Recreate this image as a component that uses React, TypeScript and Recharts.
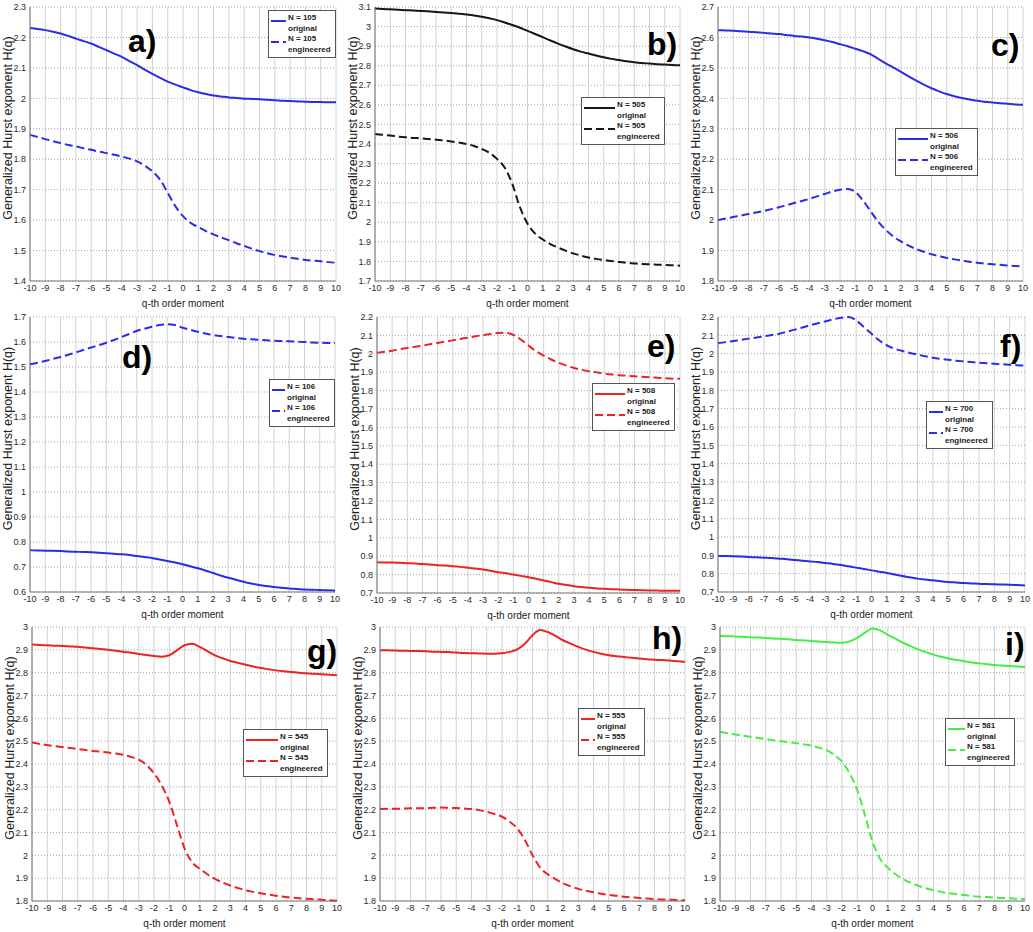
import { LineChart, Line, XAxis, YAxis, CartesianGrid, Legend, Label } from 'recharts';

const FONT = "'Liberation Sans', Arial, sans-serif";

// q values shared by every panel
const Q = [
    -10, -9.5, -9, -8.5, -8, -7.5, -7, -6.5, -6, -5.5, -5, -4.5, -4, -3.5, -3, -2.5, -2, -1.5, -1, -0.5,
    0, 0.5, 1, 1.5, 2, 2.5, 3, 3.5, 4, 4.5, 5, 5.5, 6, 6.5, 7, 7.5, 8, 8.5, 9, 9.5, 10
];
const X_TICKS = [-10, -9, -8, -7, -6, -5, -4, -3, -2, -1, 0, 1, 2, 3, 4, 5, 6, 7, 8, 9, 10];

// a) N = 105
const A_ORIGINAL = [2.231, 2.228, 2.224, 2.219, 2.213, 2.205, 2.196, 2.188, 2.18, 2.169, 2.158, 2.147, 2.136, 2.122, 2.109, 2.094, 2.08, 2.067, 2.055, 2.045, 2.036, 2.027, 2.02, 2.014, 2.009, 2.006, 2.003, 2.001, 1.999, 1.998, 1.997, 1.995, 1.994, 1.992, 1.991, 1.99, 1.989, 1.988, 1.988, 1.987, 1.987];
const A_ENGINEERED = [1.88, 1.873, 1.866, 1.859, 1.853, 1.847, 1.842, 1.836, 1.831, 1.825, 1.82, 1.815, 1.809, 1.802, 1.793, 1.779, 1.76, 1.733, 1.69, 1.646, 1.613, 1.591, 1.577, 1.564, 1.553, 1.543, 1.534, 1.524, 1.515, 1.506, 1.498, 1.491, 1.485, 1.481, 1.477, 1.473, 1.469, 1.467, 1.465, 1.462, 1.46];
const A_Y_TICKS = [1.4, 1.5, 1.6, 1.7, 1.8, 1.9, 2, 2.1, 2.2, 2.3];

// b) N = 505
const B_ORIGINAL = [3.092, 3.09, 3.088, 3.086, 3.084, 3.082, 3.08, 3.078, 3.075, 3.072, 3.069, 3.066, 3.062, 3.057, 3.05, 3.042, 3.033, 3.021, 3.008, 2.994, 2.978, 2.962, 2.946, 2.929, 2.913, 2.898, 2.884, 2.872, 2.862, 2.852, 2.843, 2.835, 2.829, 2.823, 2.818, 2.814, 2.811, 2.808, 2.806, 2.804, 2.802];
const B_ENGINEERED = [2.451, 2.447, 2.443, 2.438, 2.434, 2.431, 2.429, 2.425, 2.422, 2.418, 2.413, 2.407, 2.4, 2.39, 2.375, 2.355, 2.324, 2.28, 2.197, 2.078, 1.993, 1.942, 1.912, 1.889, 1.871, 1.855, 1.841, 1.83, 1.82, 1.813, 1.807, 1.802, 1.797, 1.793, 1.79, 1.787, 1.785, 1.783, 1.782, 1.78, 1.778];
const B_Y_TICKS = [1.7, 1.8, 1.9, 2, 2.1, 2.2, 2.3, 2.4, 2.5, 2.6, 2.7, 2.8, 2.9, 3, 3.1];

// c) N = 506
const C_ORIGINAL = [2.624, 2.623, 2.622, 2.62, 2.619, 2.617, 2.615, 2.613, 2.611, 2.608, 2.605, 2.603, 2.6, 2.596, 2.591, 2.585, 2.578, 2.571, 2.563, 2.555, 2.545, 2.53, 2.515, 2.501, 2.487, 2.472, 2.458, 2.445, 2.433, 2.423, 2.414, 2.407, 2.401, 2.396, 2.392, 2.389, 2.386, 2.384, 2.382, 2.38, 2.379];
const C_ENGINEERED = [2.0, 2.005, 2.01, 2.015, 2.02, 2.025, 2.03, 2.036, 2.042, 2.049, 2.056, 2.063, 2.07, 2.078, 2.086, 2.094, 2.1, 2.102, 2.093, 2.065, 2.03, 1.995, 1.968, 1.946, 1.93, 1.916, 1.905, 1.896, 1.888, 1.882, 1.876, 1.871, 1.867, 1.863, 1.86, 1.857, 1.855, 1.853, 1.851, 1.849, 1.848];
const C_Y_TICKS = [1.8, 1.9, 2, 2.1, 2.2, 2.3, 2.4, 2.5, 2.6, 2.7];

// d) N = 106
const D_ORIGINAL = [0.767, 0.766, 0.765, 0.765, 0.764, 0.762, 0.761, 0.76, 0.759, 0.757, 0.755, 0.753, 0.751, 0.748, 0.744, 0.74, 0.736, 0.73, 0.724, 0.718, 0.711, 0.703, 0.695, 0.686, 0.676, 0.666, 0.657, 0.649, 0.641, 0.634, 0.628, 0.624, 0.62, 0.617, 0.614, 0.612, 0.61, 0.609, 0.608, 0.607, 0.606];
const D_ENGINEERED = [1.511, 1.517, 1.524, 1.532, 1.54, 1.549, 1.558, 1.568, 1.578, 1.587, 1.597, 1.608, 1.62, 1.632, 1.644, 1.653, 1.661, 1.668, 1.671, 1.668, 1.657, 1.649, 1.641, 1.634, 1.628, 1.624, 1.62, 1.616, 1.613, 1.611, 1.609, 1.607, 1.605, 1.604, 1.603, 1.601, 1.6, 1.598, 1.597, 1.596, 1.596];
const D_Y_TICKS = [0.6, 0.7, 0.8, 0.9, 1, 1.1, 1.2, 1.3, 1.4, 1.5, 1.6, 1.7];

// e) N = 508
const E_ORIGINAL = [0.867, 0.866, 0.866, 0.864, 0.862, 0.86, 0.858, 0.855, 0.851, 0.849, 0.846, 0.842, 0.837, 0.833, 0.828, 0.821, 0.813, 0.807, 0.8, 0.793, 0.786, 0.777, 0.768, 0.759, 0.75, 0.743, 0.737, 0.732, 0.728, 0.725, 0.723, 0.721, 0.719, 0.717, 0.716, 0.715, 0.714, 0.713, 0.712, 0.712, 0.712];
const E_ENGINEERED = [2.005, 2.011, 2.017, 2.025, 2.032, 2.038, 2.044, 2.052, 2.059, 2.066, 2.073, 2.081, 2.088, 2.095, 2.102, 2.108, 2.113, 2.114, 2.102, 2.077, 2.045, 2.014, 1.99, 1.969, 1.951, 1.936, 1.923, 1.913, 1.905, 1.899, 1.893, 1.888, 1.884, 1.881, 1.878, 1.875, 1.873, 1.87, 1.867, 1.865, 1.864];
const E_Y_TICKS = [0.7, 0.8, 0.9, 1, 1.1, 1.2, 1.3, 1.4, 1.5, 1.6, 1.7, 1.8, 1.9, 2, 2.1, 2.2];

// f) N = 700
const F_ORIGINAL = [0.896, 0.896, 0.895, 0.893, 0.891, 0.889, 0.887, 0.885, 0.882, 0.879, 0.875, 0.871, 0.867, 0.863, 0.858, 0.853, 0.847, 0.84, 0.833, 0.826, 0.818, 0.811, 0.804, 0.795, 0.787, 0.78, 0.773, 0.768, 0.764, 0.759, 0.755, 0.752, 0.749, 0.747, 0.745, 0.743, 0.742, 0.741, 0.74, 0.738, 0.736];
const F_ENGINEERED = [2.058, 2.063, 2.069, 2.075, 2.082, 2.088, 2.095, 2.102, 2.109, 2.12, 2.131, 2.143, 2.155, 2.166, 2.176, 2.187, 2.196, 2.2, 2.182, 2.145, 2.109, 2.073, 2.045, 2.027, 2.015, 2.004, 1.995, 1.986, 1.978, 1.972, 1.967, 1.962, 1.958, 1.954, 1.951, 1.948, 1.945, 1.942, 1.94, 1.937, 1.935];
const F_Y_TICKS = [0.7, 0.8, 0.9, 1, 1.1, 1.2, 1.3, 1.4, 1.5, 1.6, 1.7, 1.8, 1.9, 2, 2.1, 2.2];

// g) N = 545
const G_ORIGINAL = [2.923, 2.921, 2.92, 2.918, 2.917, 2.915, 2.913, 2.91, 2.907, 2.904, 2.9, 2.896, 2.891, 2.887, 2.882, 2.877, 2.873, 2.87, 2.876, 2.898, 2.92, 2.927, 2.913, 2.894, 2.876, 2.863, 2.851, 2.843, 2.835, 2.827, 2.82, 2.815, 2.81, 2.806, 2.803, 2.8, 2.797, 2.795, 2.793, 2.791, 2.789];
const G_ENGINEERED = [2.494, 2.488, 2.483, 2.478, 2.474, 2.47, 2.466, 2.461, 2.457, 2.454, 2.45, 2.446, 2.44, 2.431, 2.419, 2.396, 2.359, 2.307, 2.235, 2.133, 2.031, 1.97, 1.941, 1.917, 1.897, 1.881, 1.868, 1.857, 1.847, 1.84, 1.834, 1.828, 1.823, 1.819, 1.815, 1.812, 1.81, 1.808, 1.806, 1.803, 1.801];
const G_Y_TICKS = [1.8, 1.9, 2, 2.1, 2.2, 2.3, 2.4, 2.5, 2.6, 2.7, 2.8, 2.9, 3];

// h) N = 555
const H_ORIGINAL = [2.898, 2.898, 2.897, 2.896, 2.895, 2.895, 2.894, 2.892, 2.891, 2.89, 2.888, 2.886, 2.885, 2.884, 2.883, 2.883, 2.885, 2.891, 2.902, 2.927, 2.964, 2.987, 2.978, 2.961, 2.942, 2.927, 2.913, 2.901, 2.891, 2.883, 2.876, 2.872, 2.869, 2.865, 2.862, 2.859, 2.857, 2.855, 2.853, 2.85, 2.847];
const H_ENGINEERED = [2.203, 2.204, 2.204, 2.205, 2.206, 2.206, 2.207, 2.208, 2.209, 2.208, 2.207, 2.205, 2.203, 2.198, 2.191, 2.181, 2.169, 2.147, 2.118, 2.067, 2.001, 1.946, 1.917, 1.896, 1.878, 1.864, 1.853, 1.845, 1.838, 1.832, 1.827, 1.823, 1.819, 1.816, 1.813, 1.811, 1.809, 1.807, 1.806, 1.804, 1.803];
const H_Y_TICKS = [1.8, 1.9, 2, 2.1, 2.2, 2.3, 2.4, 2.5, 2.6, 2.7, 2.8, 2.9, 3];

// i) N = 581
const I_ORIGINAL = [2.961, 2.96, 2.958, 2.957, 2.955, 2.954, 2.952, 2.95, 2.948, 2.946, 2.943, 2.941, 2.939, 2.936, 2.934, 2.932, 2.931, 2.937, 2.952, 2.975, 2.993, 2.985, 2.966, 2.949, 2.931, 2.916, 2.902, 2.89, 2.879, 2.87, 2.862, 2.856, 2.85, 2.845, 2.841, 2.837, 2.834, 2.831, 2.829, 2.827, 2.825];
const I_ENGINEERED = [2.541, 2.535, 2.529, 2.524, 2.519, 2.514, 2.509, 2.504, 2.5, 2.496, 2.491, 2.486, 2.48, 2.471, 2.461, 2.439, 2.41, 2.359, 2.286, 2.177, 2.06, 1.984, 1.946, 1.918, 1.896, 1.88, 1.867, 1.856, 1.847, 1.84, 1.834, 1.83, 1.826, 1.822, 1.819, 1.817, 1.815, 1.813, 1.812, 1.81, 1.809];
const I_Y_TICKS = [1.8, 1.9, 2, 2.1, 2.2, 2.3, 2.4, 2.5, 2.6, 2.7, 2.8, 2.9, 3];

const BLUE = '#2b2bea';
const BLACK = '#161616';
const RED = '#ee2222';
const GREEN = '#44ee44';

const Y_AXIS_W = 32;
const M_TOP = 5;
const M_RIGHT = 8;
const X_AXIS_H = 30;

type Box = { left: number; top: number; right: number; bottom: number };
type PanelSpec = {
    tag: string;
    n: number;
    color: string;
    original: number[];
    engineered: number[];
    yTicks: number[];
    plot: Box;
    legend: { left: number; top: number; w: number };
    letter: { left: number; top: number };
};

const PANELS: PanelSpec[] = [
    { tag: 'a)', n: 105, color: BLUE, original: A_ORIGINAL, engineered: A_ENGINEERED, yTicks: A_Y_TICKS,
      plot: { left: 30, top: 7, right: 336, bottom: 281 }, legend: { left: 268, top: 10, w: 68 }, letter: { left: 128, top: 25 } },
    { tag: 'b)', n: 505, color: BLACK, original: B_ORIGINAL, engineered: B_ENGINEERED, yTicks: B_Y_TICKS,
      plot: { left: 375, top: 7, right: 680, bottom: 281 }, legend: { left: 581, top: 97, w: 84 }, letter: { left: 647, top: 28 } },
    { tag: 'c)', n: 506, color: BLUE, original: C_ORIGINAL, engineered: C_ENGINEERED, yTicks: C_Y_TICKS,
      plot: { left: 718, top: 7, right: 1023, bottom: 281 }, legend: { left: 895, top: 128, w: 83 }, letter: { left: 991, top: 29 } },
    { tag: 'd)', n: 106, color: BLUE, original: D_ORIGINAL, engineered: D_ENGINEERED, yTicks: D_Y_TICKS,
      plot: { left: 30, top: 317, right: 335, bottom: 592 }, legend: { left: 269, top: 379, w: 66 }, letter: { left: 122, top: 341 } },
    { tag: 'e)', n: 508, color: RED, original: E_ORIGINAL, engineered: E_ENGINEERED, yTicks: E_Y_TICKS,
      plot: { left: 377, top: 317, right: 680, bottom: 593 }, legend: { left: 592, top: 383, w: 83 }, letter: { left: 647, top: 330 } },
    { tag: 'f)', n: 700, color: BLUE, original: F_ORIGINAL, engineered: F_ENGINEERED, yTicks: F_Y_TICKS,
      plot: { left: 718, top: 317, right: 1025, bottom: 592 }, legend: { left: 926, top: 401, w: 67 }, letter: { left: 1000, top: 330 } },
    { tag: 'g)', n: 545, color: RED, original: G_ORIGINAL, engineered: G_ENGINEERED, yTicks: G_Y_TICKS,
      plot: { left: 32, top: 627, right: 337, bottom: 901 }, legend: { left: 243, top: 729, w: 85 }, letter: { left: 307, top: 635 } },
    { tag: 'h)', n: 555, color: RED, original: H_ORIGINAL, engineered: H_ENGINEERED, yTicks: H_Y_TICKS,
      plot: { left: 380, top: 627, right: 685, bottom: 901 }, legend: { left: 578, top: 708, w: 67 }, letter: { left: 652, top: 622 } },
    { tag: 'i)', n: 581, color: GREEN, original: I_ORIGINAL, engineered: I_ENGINEERED, yTicks: I_Y_TICKS,
      plot: { left: 720, top: 627, right: 1025, bottom: 901 }, legend: { left: 945, top: 718, w: 70 }, letter: { left: 1005, top: 628 } }
];

const SERIES = [
    { key: 'original', name: 'original', dash: undefined as string | undefined },
    { key: 'engineered', name: 'engineered', dash: '8 4' }
];

const renderYLabel = (props: any) => {
    const vb = props.viewBox || {};
    const cx = vb.x + 10;
    const cy = vb.y + vb.height / 2 - 16;
    return (
        <text x={cx} y={cy} transform={`rotate(-90 ${cx} ${cy})`} textAnchor="middle" dominantBaseline="central"
            fontSize={12.5} fill="#222" fontFamily={FONT}>
            Generalized Hurst exponent H(q)
        </text>
    );
};

const LegendBox = ({ p }: { p: PanelSpec }) => {
    const sampleW = p.legend.w - 53;
    return (
        <div style={{
            width: p.legend.w, boxSizing: 'border-box', border: '1px solid #555', background: '#fff',
            padding: '2px 3px 2px 2px', fontFamily: FONT, fontSize: 8, fontWeight: 700, color: '#222'
        }}>
            {SERIES.map(s => (
                <div key={s.key} style={{ display: 'flex', alignItems: 'flex-start' }}>
                    <svg width={sampleW} height={10} style={{ flex: 'none', marginRight: 2 }}>
                        <line x1={0} x2={sampleW} y1={8} y2={8} stroke={p.color} strokeWidth={2} strokeDasharray={s.dash} />
                    </svg>
                    <div style={{ lineHeight: '10.5px' }}>N = {p.n}<br />{s.name}</div>
                </div>
            ))}
        </div>
    );
};

const Panel = ({ p }: { p: PanelSpec }) => {
    const chartLeft = p.plot.left - Y_AXIS_W;
    const chartTop = p.plot.top - M_TOP;
    const width = p.plot.right - chartLeft + M_RIGHT;
    const height = p.plot.bottom - chartTop + X_AXIS_H;
    const data = Q.map((q, i) => ({ q, original: p.original[i], engineered: p.engineered[i] }));
    const yDomain = [p.yTicks[0], p.yTicks[p.yTicks.length - 1]];
    const tickStyle = { fontSize: 9, fill: '#2a2a2a', fontFamily: FONT };

    return (
        <div style={{ position: 'absolute', left: chartLeft, top: chartTop }}>
            <LineChart width={width} height={height} data={data}
                margin={{ top: M_TOP, right: M_RIGHT, bottom: 0, left: 0 }}>
                <CartesianGrid horizontal={false} stroke="#d2d2d2" />
                <CartesianGrid vertical={false} stroke="#a4a4a4" strokeDasharray="1 2" />
                <XAxis dataKey="q" type="number" domain={[-10, 10]} ticks={X_TICKS} interval={0}
                    height={X_AXIS_H} tickSize={0} tickMargin={4} tickLine={false}
                    axisLine={{ stroke: '#777' }} tick={tickStyle}>
                    <Label value="q-th order moment" position="insideBottom" offset={4}
                        style={{ fontSize: 10, fill: '#1a1a1a', fontFamily: FONT }} />
                </XAxis>
                <YAxis type="number" domain={yDomain} ticks={p.yTicks} interval={0} width={Y_AXIS_W}
                    tickSize={0} tickMargin={4} tickLine={false} axisLine={{ stroke: '#777' }} tick={tickStyle}>
                    <Label content={renderYLabel} />
                </YAxis>
                {SERIES.map(s => (
                    <Line key={s.key} dataKey={s.key} type="monotone" stroke={p.color} strokeWidth={2}
                        strokeDasharray={s.dash} dot={false} activeDot={false} isAnimationActive={false} />
                ))}
                <Legend layout="horizontal" verticalAlign="middle" align="center"
                    content={() => <LegendBox p={p} />}
                    wrapperStyle={{ left: p.legend.left - chartLeft, top: p.legend.top - chartTop, width: p.legend.w }} />
            </LineChart>
            <div style={{
                position: 'absolute', left: p.letter.left - chartLeft, top: p.letter.top - chartTop,
                fontFamily: "'Liberation Sans Narrow', 'Liberation Sans', Arial, sans-serif",
                fontWeight: 700, fontSize: 32, lineHeight: '32px', color: '#000'
            }}>
                {p.tag}
            </div>
        </div>
    );
};

export default function App() {
    return (
        <div style={{ position: 'relative', width: 1033, height: 932, background: '#fff', overflow: 'hidden' }}>
            <style>{'body{margin:0}'}</style>
            {PANELS.map(p => <Panel key={p.tag} p={p} />)}
        </div>
    );
}
